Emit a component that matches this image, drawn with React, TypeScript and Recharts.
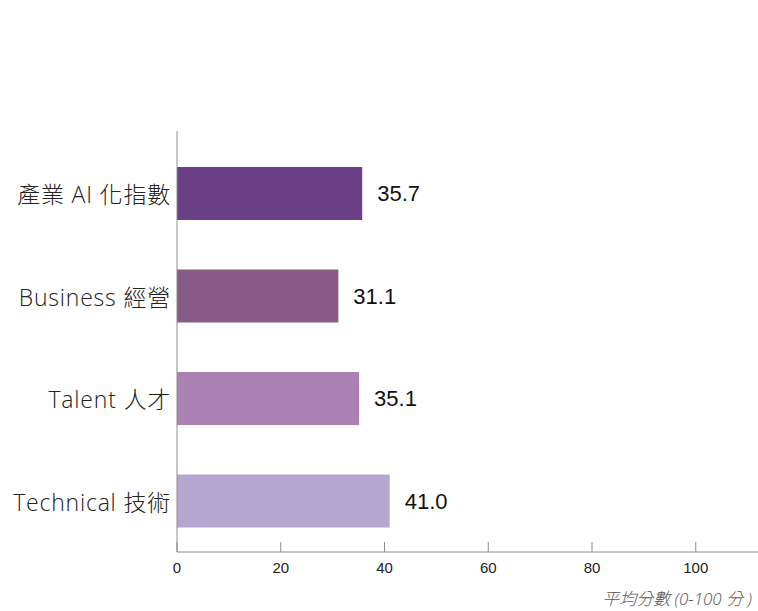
import { BarChart, Bar, XAxis, YAxis, Cell, LabelList } from 'recharts';

const CATEGORIES = ['產業 AI 化指數', 'Business 經營', 'Talent 人才', 'Technical 技術'];
const SCORES = [35.7, 31.1, 35.1, 41.0];
const BAR_COLORS = ['#6b4086', '#885b86', '#ab81b3', '#b3a7cf'];
const X_TICKS = [0, 20, 40, 60, 80, 100];
const X_TITLE = '平均分數 (0-100 分 )';

const data = CATEGORIES.map((name, i) => ({ name, score: SCORES[i] }));

export default function App() {
  return (
    <div style={{ position: 'absolute', left: 0, top: 0, width: 758, height: 611, background: '#fff' }}>
      <BarChart
        width={758}
        height={611}
        data={data}
        layout="vertical"
        margin={{ top: 131, right: 0, bottom: 0, left: 0 }}
      >
        <XAxis
          type="number"
          domain={[0, 112]}
          ticks={X_TICKS}
          height={59}
          stroke="#8c8c8c"
          tickSize={-10}
          tickMargin={20}
          tick={{ fill: '#222', fontSize: 15, fontFamily: "'Liberation Sans', Arial, sans-serif" }}
          label={{
            value: X_TITLE,
            position: 'insideBottomRight',
            offset: 6,
            fill: '#555',
            fontSize: 17,
            fontStyle: 'italic',
            fontWeight: 300,
            fontFamily: "'Open Sans', 'Noto Sans CJK TC', sans-serif",
          }}
        />
        <YAxis
          type="category"
          dataKey="name"
          width={177}
          padding={{ top: 11, bottom: 0 }}
          stroke="#8c8c8c"
          tickLine={false}
          tickSize={0}
          tickMargin={6}
          dy={2}
          tick={{
            fill: '#222',
            fontSize: 23,
            fontWeight: 300,
            letterSpacing: 0.8,
            fontFamily: "'Open Sans', 'Noto Sans CJK TC', sans-serif",
          }}
        />
        <Bar dataKey="score" barSize={53} isAnimationActive={false}>
          {data.map((d, i) => (
            <Cell key={d.name} fill={BAR_COLORS[i]} />
          ))}
          <LabelList
            dataKey="score"
            position="right"
            offset={15}
            formatter={(v: number) => v.toFixed(1)}
            fill="#111"
            fontSize={22}
            fontFamily="'Liberation Sans', Arial, sans-serif"
          />
        </Bar>
      </BarChart>
    </div>
  );
}
